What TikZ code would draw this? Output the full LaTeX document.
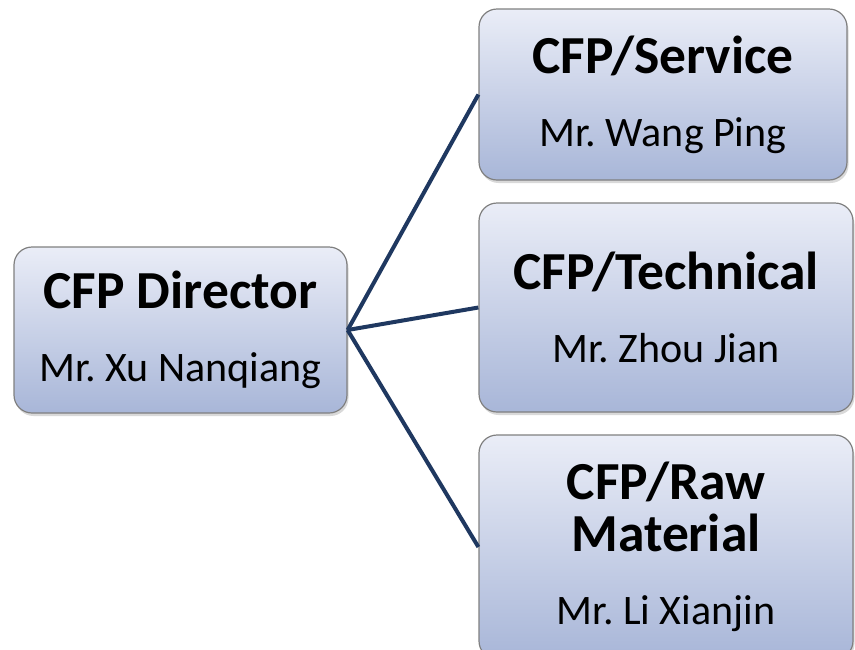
\documentclass[tikz,border=0pt]{standalone}
\usepackage{fontspec}
\setmainfont{Carlito}
\frenchspacing
\usetikzlibrary{shadows}
\definecolor{boxtop}{RGB}{234,237,247}
\definecolor{boxbottom}{RGB}{168,182,216}
\definecolor{boxedge}{RGB}{128,128,128}
\definecolor{linkblue}{RGB}{31,56,96}
\newcommand{\unittitle}[1]{{\bfseries\fontsize{53.5}{52}\selectfont #1}}
\tikzstyle{unit} = [rectangle, rounded corners=18pt,
text centered,
align=center,
draw=boxedge,
line width=1.2pt,
top color=boxtop,
bottom color=boxbottom,
drop shadow={shadow xshift=1.5pt, shadow yshift=-3pt, opacity=0.3},
font=\fontsize{42}{52}\selectfont]
\tikzstyle{link} = [line width=4pt, draw=linkblue]
\begin{document}
\begin{tikzpicture}[node distance=2cm, auto]
		\useasboundingbox (0,0) rectangle (855pt,-649pt);
		\node (dir) [unit, minimum width=333pt, minimum height=166pt] at (180.5pt,-330pt) {\unittitle{CFP Director}\\[21pt]Mr. Xu Nanqiang};
		\node (tech) [unit, right of=dir, node distance=485.5pt, yshift=22.5pt, minimum width=374pt, minimum height=209pt] {\unittitle{CFP/Technical}\\[21pt]Mr. Zhou Jian};
		\node (serv) [unit, above of=tech, node distance=213pt, xshift=-3pt, minimum width=368pt, minimum height=171pt] {\unittitle{CFP/Service}\\[21pt]Mr. Wang Ping};
		\node (raw) [unit, below of=tech, node distance=239.5pt, minimum width=374pt, minimum height=224pt] {\unittitle{CFP/Raw}\\\unittitle{Material}\\[21pt]Mr. Li Xianjin};
	
		\draw [link] (dir.east) -- (serv.west);
		\draw [link] (dir.east) -- (tech.west);
		\draw [link] (dir.east) -- (raw.west);
	\end{tikzpicture}
\end{document}
